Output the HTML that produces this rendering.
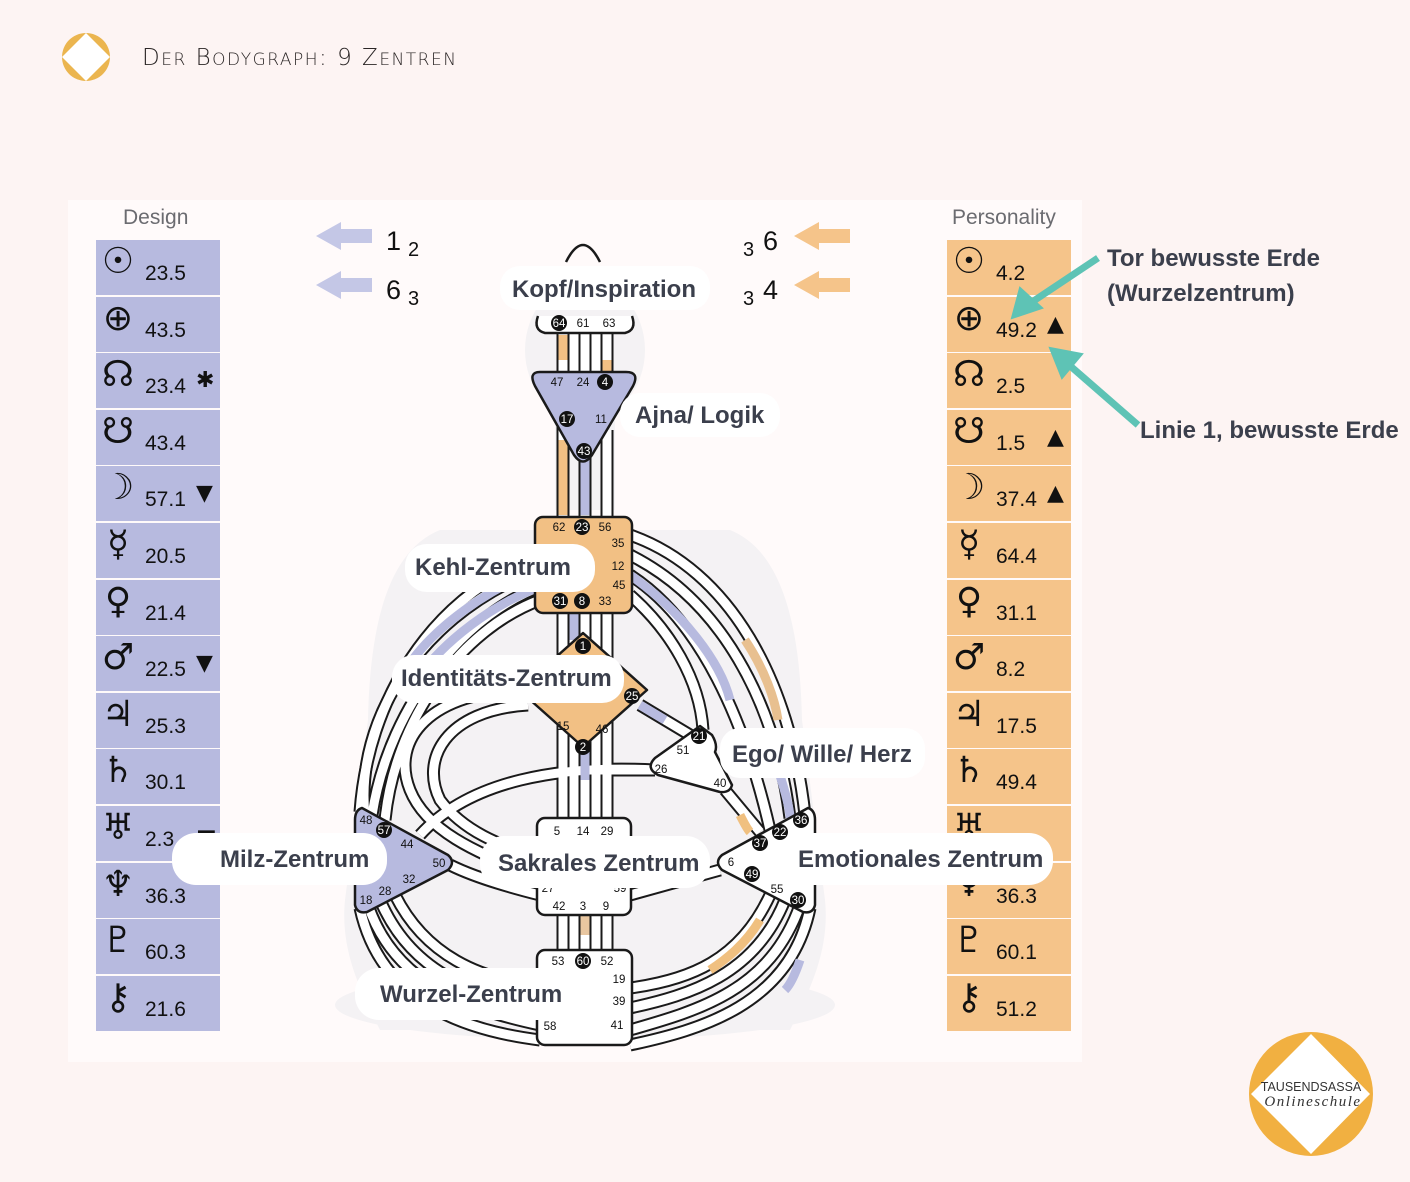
<!DOCTYPE html>
<html><head><meta charset="utf-8"><style>
html,body{margin:0;padding:0;background:#fdf4f3;}
body{width:1410px;height:1182px;position:relative;overflow:hidden;font-family:"Liberation Sans","DejaVu Sans",sans-serif;}
.r{height:55px;margin-bottom:1.6px;position:relative;font-family:"DejaVu Sans",sans-serif;color:#111}
.r .s{position:absolute;left:2px;top:2px;font-size:36px;line-height:40px;width:40px;text-align:center}
.r .v{position:absolute;left:49px;top:22px;font-size:21px;font-family:"Liberation Sans",sans-serif}
.r .m{position:absolute;left:100px;top:15px;font-size:22px}
#d .r{background:#b7badf}#p .r{background:#f5c48a}
</style></head><body>
<svg width="1410" height="1182" viewBox="0 0 1410 1182" xmlns="http://www.w3.org/2000/svg" style="position:absolute;left:0;top:0">
<defs>
<g id="chan" fill="none">
<path d="M563,330V375M574,330V375M585,330V375M596,330V375M607,330V375"/>
<path d="M563,420V520M585,455V520M607,430V520"/>
<path d="M563,610V660M574,610V650M585,610V640M596,610V650M607,610V660"/>
<path d="M563,720V825M574,730V825M585,740V825M596,730V825M607,720V825"/>
<path d="M563,912V955M574,912V955M585,912V955M596,912V955M607,912V955"/>
<path d="M545,585C470,610 390,700 372,815"/>
<path d="M540,600C460,630 395,720 385,820"/>
<path d="M530,560C430,600 368,700 360,812"/>
<path d="M525,575C420,620 355,720 365,815"/>
<path d="M368,905C395,985 470,1010 540,1025"/>
<path d="M380,900C410,970 470,995 540,1005"/>
<path d="M395,895C425,955 480,980 540,985"/>
<path d="M360,908C380,1000 460,1030 540,1040"/>
<path d="M630,535C730,570 790,680 805,815"/>
<path d="M630,555C720,600 775,700 790,818"/>
<path d="M630,575C700,620 745,720 770,830"/>
<path d="M630,595C670,630 700,680 703,730"/>
<path d="M800,905C770,990 700,1010 630,1030"/>
<path d="M785,900C755,975 690,995 630,1008"/>
<path d="M770,895C740,960 690,980 630,988"/>
<path d="M810,908C790,1005 700,1030 630,1045"/>
<path d="M640,705L690,735"/>
<path d="M725,790L760,832"/>
<path d="M590,770H655"/>
<path d="M420,835C470,780 560,765 655,770"/>
<path d="M528,690C430,690 390,740 410,790C430,840 500,860 545,880"/>
<path d="M528,705C445,710 420,760 440,800C470,840 520,850 545,860"/>
<path d="M540,895C500,885 470,875 450,865"/>
<path d="M630,895L720,870"/>
</g>
</defs>
<rect x="68" y="200" width="1014" height="862" fill="#fffafa"/>
<g fill="#f4f2f4">
<ellipse cx="585" cy="350" rx="60" ry="70"/>
<rect x="555" y="400" width="60" height="110"/>
<path d="M440,530C390,550 370,620 368,720L345,900C340,950 360,990 380,1030H790C810,990 830,950 825,900L802,720C800,620 780,550 730,530Z"/>
<ellipse cx="585" cy="1005" rx="250" ry="35"/>
</g>
<use href="#chan" stroke="#1a1a1a" stroke-width="13"/>
<use href="#chan" stroke="#ffffff" stroke-width="9"/>
<g fill="none" stroke-width="9">
<path d="M563,335V360M607,360V372M563,440V515" stroke="#f2c084"/>
<path d="M585,455V515M574,612V640" stroke="#b7badf"/>
<path d="M585,745V780" stroke="#b7badf"/>
<path d="M585,915V935" stroke="#e8c6a0"/>
<path d="M525,575C470,600 420,640 400,680" stroke="#b7badf"/>
<path d="M545,585C500,600 440,640 410,690" stroke="#b7badf"/>
<path d="M630,575C680,610 720,660 730,700" stroke="#b7badf"/>
<path d="M745,640C765,670 775,700 778,720" stroke="#e8c090"/>
<path d="M775,760C785,790 790,810 790,818" stroke="#b7badf"/>
<path d="M740,815C745,825 748,830 750,832" stroke="#f0c080"/>
<path d="M760,920C745,945 725,960 710,970" stroke="#f0c080"/>
<path d="M800,960C795,975 790,985 785,990" stroke="#b7badf"/>
<path d="M640,705L665,720" stroke="#b7badf"/>
</g>
<path d="M566,262Q583,228 600,262" fill="none" stroke="#1a1a1a" stroke-width="2.5"/>
<path d="M538,316Q533,330 545,333H625Q637,330 632,316" fill="#fff" stroke="#1a1a1a" stroke-width="2.5"/>
<path d="M540,372H626Q640,372 633,386L592,455Q583,468 574,455L535,386Q528,372 540,372Z" fill="#b7badf" stroke="#1a1a1a" stroke-width="2.5"/>
<rect x="535" y="517" width="97" height="96" rx="8" fill="#f2c084" stroke="#1a1a1a" stroke-width="2.5"/>
<path d="M583,633L647,690L583,747L519,690Z" fill="#f2c084" stroke="#1a1a1a" stroke-width="2.5" stroke-linejoin="round"/>
<path d="M700,726L712,735Q718,745 715,752L732,785Q730,793 720,792L658,775Q645,768 655,758Z" fill="#fff" stroke="#1a1a1a" stroke-width="2.5" stroke-linejoin="round"/>
<rect x="537" y="818" width="94" height="97" rx="8" fill="#fff" stroke="#1a1a1a" stroke-width="2.5"/>
<path d="M362,808Q355,810 355,820V905Q357,914 367,912L448,870Q456,862 448,855Z" fill="#b7badf" stroke="#1a1a1a" stroke-width="2.5" stroke-linejoin="round"/>
<path d="M808,808Q815,810 815,820V905Q813,914 803,912L722,870Q714,862 722,855Z" fill="#fff" stroke="#1a1a1a" stroke-width="2.5" stroke-linejoin="round"/>
<rect x="537" y="950" width="95" height="95" rx="8" fill="#fff" stroke="#1a1a1a" stroke-width="2.5"/>
<g font-size="11.5" text-anchor="middle" font-family="Liberation Sans,sans-serif">
<g fill="#111"><circle cx="559" cy="323" r="8"/><circle cx="605" cy="382" r="8"/><circle cx="567" cy="419" r="8"/><circle cx="584" cy="451" r="8"/><circle cx="582" cy="527" r="8"/><circle cx="560" cy="601" r="8"/><circle cx="582" cy="601" r="8"/><circle cx="583" cy="646" r="8"/><circle cx="632" cy="696" r="8"/><circle cx="583" cy="747" r="8"/><circle cx="699" cy="736" r="8"/><circle cx="384" cy="830" r="8"/><circle cx="801" cy="820" r="8"/><circle cx="780" cy="832" r="8"/><circle cx="760" cy="843" r="8"/><circle cx="752" cy="874" r="8"/><circle cx="798" cy="900" r="8"/><circle cx="583" cy="961" r="8"/></g>
<g fill="#fff"><text x="559" y="327">64</text><text x="605" y="386">4</text><text x="567" y="423">17</text><text x="584" y="455">43</text><text x="582" y="531">23</text><text x="560" y="605">31</text><text x="582" y="605">8</text><text x="583" y="650">1</text><text x="632" y="700">25</text><text x="583" y="751">2</text><text x="699" y="740">21</text><text x="384" y="834">57</text><text x="801" y="824">36</text><text x="780" y="836">22</text><text x="760" y="847">37</text><text x="752" y="878">49</text><text x="798" y="904">30</text><text x="583" y="965">60</text></g>
<g fill="#111"><text x="583" y="327">61</text><text x="609" y="327">63</text><text x="557" y="386">47</text><text x="583" y="386">24</text><text x="601" y="423">11</text><text x="559" y="531">62</text><text x="605" y="531">56</text><text x="618" y="547">35</text><text x="618" y="570">12</text><text x="619" y="589">45</text><text x="605" y="605">33</text><text x="563" y="730">15</text><text x="602" y="733">46</text><text x="683" y="754">51</text><text x="661" y="773">26</text><text x="720" y="787">40</text><text x="366" y="824">48</text><text x="407" y="848">44</text><text x="439" y="867">50</text><text x="409" y="883">32</text><text x="385" y="895">28</text><text x="366" y="904">18</text><text x="731" y="866">6</text><text x="777" y="893">55</text><text x="557" y="835">5</text><text x="583" y="835">14</text><text x="607" y="835">29</text><text x="548" y="892">27</text><text x="620" y="892">59</text><text x="559" y="910">42</text><text x="583" y="910">3</text><text x="606" y="910">9</text><text x="558" y="965">53</text><text x="607" y="965">52</text><text x="619" y="983">19</text><text x="619" y="1005">39</text><text x="550" y="1030">58</text><text x="617" y="1029">41</text></g>
</g>
<g fill="#c4c7e6"><path d="M316,236L341,222V229H372V243H341V250Z"/><path d="M316,285L341,271V278H372V292H341V299Z"/></g>
<g fill="#f5c48a"><path d="M794,236L819,222V229H850V243H819V250Z"/><path d="M794,285L819,271V278H850V292H819V299Z"/></g>
<g fill="#111" font-size="27" font-family="Liberation Sans,sans-serif"><text x="386" y="250">1</text><text x="408" y="256" font-size="20">2</text><text x="386" y="299">6</text><text x="408" y="305" font-size="20">3</text><text x="743" y="256" font-size="20">3</text><text x="763" y="250">6</text><text x="743" y="305" font-size="20">3</text><text x="763" y="299">4</text></g>
<circle cx="86" cy="57" r="24" fill="#ebb54f"/><path d="M86,33L110,57L86,81L62,57Z" fill="#fff"/>
<text x="142" y="65" font-family="DejaVu Sans,sans-serif" font-weight="300" font-size="23" fill="#2b2626" letter-spacing="1.5">D<tspan font-size="17">ER</tspan> B<tspan font-size="17">ODYGRAPH</tspan>: 9 Z<tspan font-size="17">ENTREN</tspan></text>
<circle cx="1311" cy="1094" r="62" fill="#f1b041"/><path d="M1311,1034L1370,1094L1311,1154L1251,1094Z" fill="#fff"/>
<text x="1311" y="1091" text-anchor="middle" font-size="12.5" fill="#333" font-family="Liberation Sans,sans-serif">TAUSENDSASSA</text>
<text x="1313" y="1106" text-anchor="middle" font-size="15" font-style="italic" fill="#333" font-family="Liberation Serif,serif" letter-spacing="1.5">Onlineschule</text>
</svg>
<div style="position:absolute;left:123px;top:206px;font-size:21px;color:#6b6b70">Design</div>
<div style="position:absolute;left:952px;top:206px;font-size:21px;color:#6b6b70">Personality</div>
<div id="d" style="position:absolute;left:96px;top:240px;width:124px"></div>
<div id="p" style="position:absolute;left:947px;top:240px;width:124px"></div>
<script>
var sy=["☉","⊕","☊","☋","☽","☿","♀","♂","♃","♄","♅","♆","♇","⚷"];
var dv=["23.5","43.5","23.4","43.4","57.1","20.5","21.4","22.5","25.3","30.1","2.3","36.3","60.3","21.6"];
var dm=["","","✱","","▼","","","▼","","","▬","","",""];
var pv=["4.2","49.2","2.5","1.5","37.4","64.4","31.1","8.2","17.5","49.4","","36.3","60.1","51.2"];
var pm=["","▲","","▲","▲","","","","","","","","",""];
function f(id,v,m){var h="";for(var i=0;i<14;i++)h+='<div class="r"><span class="s">'+sy[i]+'</span><span class="v">'+v[i]+'</span><span class="m">'+m[i]+'</span></div>';document.getElementById(id).innerHTML=h;}
f("d",dv,dm);f("p",pv,pm);
</script>
<svg width="1410" height="1182" viewBox="0 0 1410 1182" xmlns="http://www.w3.org/2000/svg" style="position:absolute;left:0;top:0">
<g font-weight="bold" font-size="24" fill="#3b3f4c" font-family="Liberation Sans,sans-serif">
<rect x="500" y="266" width="210" height="44" rx="20" fill="#fff"/><text x="512" y="297">Kopf/Inspiration</text>
<rect x="620" y="393" width="160" height="44" rx="20" fill="#fff"/><text x="635" y="423">Ajna/ Logik</text>
<rect x="405" y="544" width="190" height="48" rx="22" fill="#fff"/><text x="415" y="575">Kehl-Zentrum</text>
<rect x="392" y="655" width="232" height="48" rx="22" fill="#fff"/><text x="401" y="686">Identitäts-Zentrum</text>
<rect x="720" y="728" width="205" height="50" rx="20" fill="#fff"/><text x="732" y="762">Ego/ Wille/ Herz</text>
<rect x="172" y="833" width="215" height="52" rx="24" fill="#fff"/><text x="220" y="867">Milz-Zentrum</text>
<rect x="480" y="836" width="230" height="52" rx="24" fill="#fff"/><text x="498" y="871">Sakrales Zentrum</text>
<rect x="785" y="833" width="268" height="52" rx="24" fill="#fff"/><text x="798" y="867">Emotionales Zentrum</text>
<rect x="355" y="968" width="210" height="52" rx="24" fill="#fff"/><text x="380" y="1002">Wurzel-Zentrum</text>
<text x="1107" y="266">Tor bewusste Erde</text><text x="1107" y="301">(Wurzelzentrum)</text><text x="1140" y="438">Linie 1, bewusste Erde</text>
</g>
<g stroke="#5ec3b5" stroke-width="7" fill="#5ec3b5">
<line x1="1098" y1="258" x2="1032" y2="302"/><path d="M1012,318L1020,288L1042,308Z" stroke-width="2"/>
<line x1="1138" y1="425" x2="1068" y2="364"/><path d="M1050,348L1082,354L1062,378Z" stroke-width="2"/>
</g>
</svg>
</body></html>
